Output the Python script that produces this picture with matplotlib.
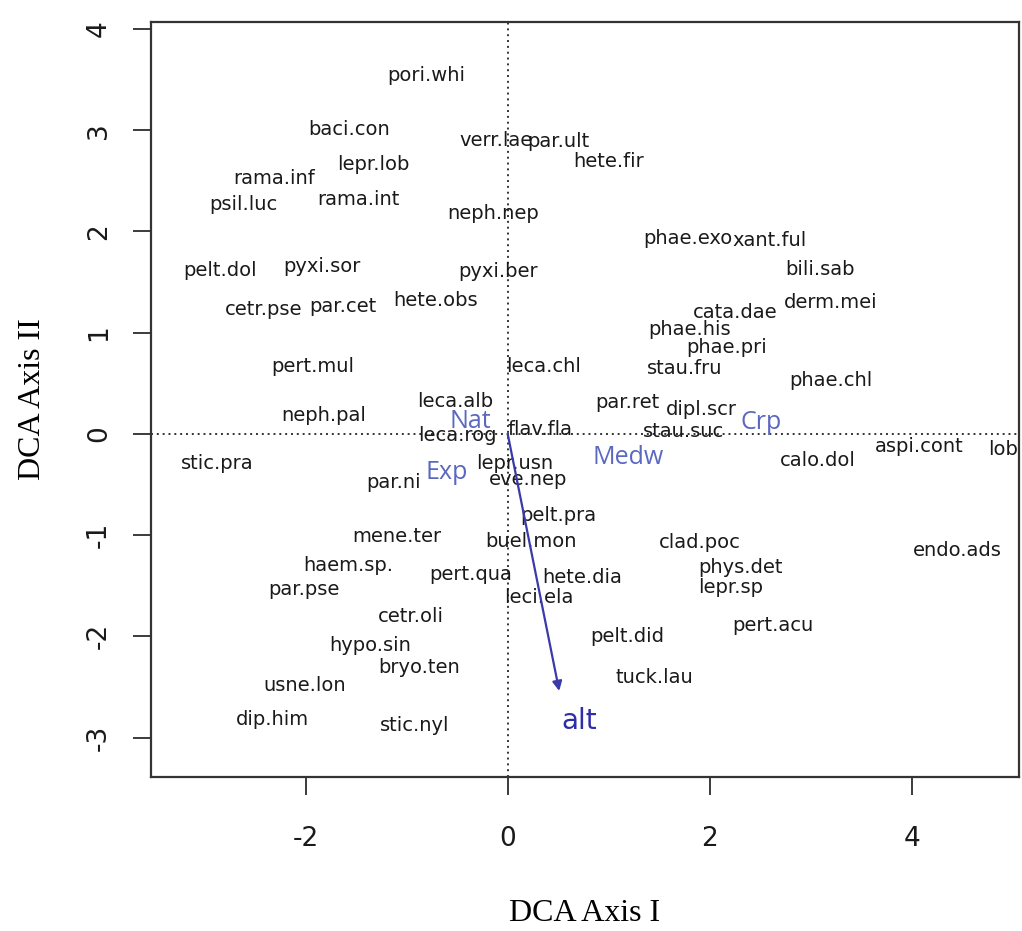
import matplotlib
matplotlib.use("Agg")
import matplotlib.pyplot as plt

species = ["pori.whi", "baci.con", "verr.lae", "par.ult", "hete.fir", "lepr.lob",
           "rama.inf", "psil.luc", "rama.int", "neph.nep", "phae.exo", "xant.ful",
           "pelt.dol", "pyxi.sor", "pyxi.ber", "bili.sab", "cetr.pse", "par.cet",
           "hete.obs", "derm.mei", "cata.dae", "phae.his", "phae.pri", "pert.mul",
           "leca.chl", "stau.fru", "phae.chl", "par.ret", "dipl.scr", "leca.alb",
           "neph.pal", "leca.rog", "flav.fla", "stau.suc", "aspi.cont", "lobo.pul",
           "calo.dol", "stic.pra", "lepr.usn", "eve.nep", "par.ni", "pelt.pra",
           "mene.ter", "buel.mon", "clad.poc", "endo.ads", "haem.sp.", "phys.det",
           "pert.qua", "hete.dia", "par.pse", "lepr.sp", "leci.ela", "cetr.oli",
           "pert.acu", "pelt.did", "hypo.sin", "bryo.ten", "tuck.lau", "usne.lon",
           "dip.him", "stic.nyl"]
axis1 = [-0.81, -1.57, -0.12, 0.50, 1.00, -1.33,
         -2.31, -2.62, -1.48, -0.14, 1.78, 2.59,
         -2.85, -1.84, -0.10, 3.09, -2.42, -1.63,
         -0.71, 3.20, 2.25, 1.80, 2.17, -1.93,
         0.35, 1.75, 3.20, 1.18, 1.92, -0.52,
         -1.82, -0.50, 0.32, 1.74, 4.07, 5.14,
         3.07, -2.87, 0.07, 0.20, -1.13, 0.50,
         -1.10, 0.23, 1.90, 4.45, -1.58, 2.30,
         -0.37, 0.74, -2.02, 2.21, 0.31, -0.96,
         2.62, 1.18, -1.36, -0.88, 1.45, -2.01,
         -2.33, -0.92]
axis2 = [3.54, 3.01, 2.90, 2.89, 2.69, 2.66,
         2.52, 2.27, 2.32, 2.18, 1.93, 1.91,
         1.61, 1.65, 1.60, 1.62, 1.23, 1.26,
         1.32, 1.30, 1.20, 1.03, 0.85, 0.67,
         0.67, 0.65, 0.53, 0.31, 0.24, 0.32,
         0.18, -0.02, 0.04, 0.02, -0.12, -0.15,
         -0.26, -0.29, -0.29, -0.45, -0.48, -0.81,
         -1.01, -1.06, -1.07, -1.15, -1.30, -1.32,
         -1.39, -1.42, -1.54, -1.52, -1.62, -1.80,
         -1.89, -2.00, -2.09, -2.31, -2.41, -2.49,
         -2.82, -2.88]

factor_labels = ["Nat", "Exp", "Medw", "Crp"]
factor_x = [-0.37, -0.60, 1.19, 2.51]
factor_y = [0.12, -0.38, -0.23, 0.11]

vector_label = "alt"
vector_x = [0.51]
vector_y = [-2.54]
vector_label_pos = [0.71, -2.84]

xticks = [-2, 0, 2, 4]
yticks = [-3, -2, -1, 0, 1, 2, 3, 4]

fig = plt.figure(figsize=(10.22, 9.31), dpi=100)
ax = fig.add_axes([151 / 1022, 1 - 777 / 931, (1019 - 151) / 1022, (777 - 22) / 931])
ax.set_xlim(-3.53, 5.06)
ax.set_ylim(-3.39, 4.07)

ax.axhline(0, color="#333333", linestyle=(0, (1, 2)), lw=1.4, zorder=1)
ax.axvline(0, color="#333333", linestyle=(0, (1, 2)), lw=1.4, zorder=1)

for name, x, y in zip(species, axis1, axis2):
    ax.text(x, y, name, ha="center", va="center", fontsize=14,
            family="DejaVu Sans", color="#1a1a1a", clip_on=True, zorder=3)

for name, x, y in zip(factor_labels, factor_x, factor_y):
    ax.text(x, y, name, ha="center", va="center", fontsize=18,
            family="Open Sans", color="#5a68c0", zorder=4)

ax.annotate("", xy=(vector_x[0], vector_y[0]), xytext=(0, 0),
            arrowprops=dict(arrowstyle="-|>", color="#3a3aa8", lw=1.6,
                            mutation_scale=14, shrinkA=0, shrinkB=0), zorder=5)
ax.text(vector_label_pos[0], vector_label_pos[1], vector_label, ha="center",
        va="center", fontsize=20, family="DejaVu Sans", color="#2e2ea8", zorder=5)

ax.set_xticks(xticks)
ax.set_yticks(yticks)
ax.set_xticklabels([str(t) for t in xticks])
ax.set_yticklabels([str(t) for t in yticks], rotation=90, va="center")
ax.tick_params(axis="both", direction="out", length=13, width=1.2,
               colors="#1a1a1a", labelsize=19)
ax.tick_params(axis="x", pad=22)
ax.tick_params(axis="y", pad=15)
for lab in ax.get_xticklabels() + ax.get_yticklabels():
    lab.set_family("DejaVu Sans")

for s in ax.spines.values():
    s.set_linewidth(1.6)
    s.set_color("#333333")

ax.set_xlabel("DCA Axis I", family="Liberation Serif", fontsize=23, labelpad=34)
ax.set_ylabel("DCA Axis II", family="Liberation Serif", fontsize=23, labelpad=28)

fig.savefig("out.png", dpi=100)
